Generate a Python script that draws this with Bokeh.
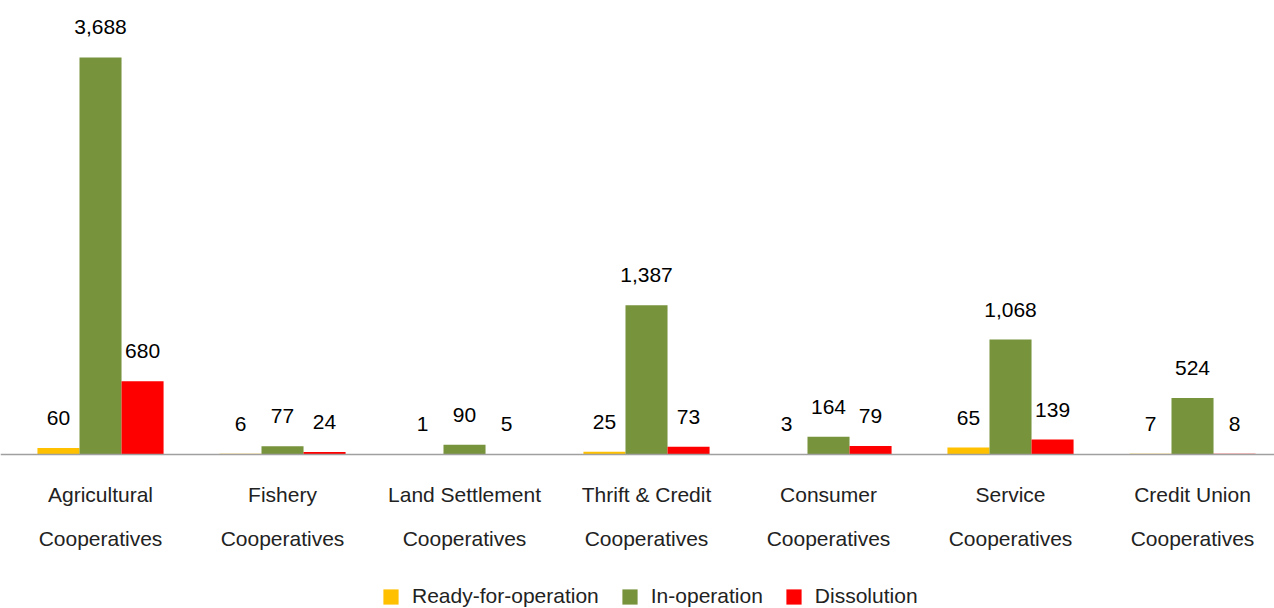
from bokeh.plotting import figure
from bokeh.models import (ColumnDataSource, Range1d, LinearAxis, FixedTicker,
                          Legend, LegendItem, LabelSet)
from bokeh.core.properties import value
from bokeh.embed import file_html
from bokeh.resources import INLINE

categories_line1 = ["Agricultural", "Fishery", "Land Settlement", "Thrift & Credit",
                    "Consumer", "Service", "Credit Union"]
categories_line2 = ["Cooperatives"] * 7
ready = [60, 6, 1, 25, 3, 65, 7]
in_operation = [3688, 77, 90, 1387, 164, 1068, 524]
dissolution = [680, 24, 5, 73, 79, 139, 8]
series_names = ["Ready-for-operation", "In-operation", "Dissolution"]
colors = ["#FFC000", "#77933C", "#FF0000"]

FONT = "Liberation Sans"
idx = list(range(len(categories_line1)))

p = figure(width=1274, height=608, output_backend="svg", toolbar_location=None,
           x_range=Range1d(-0.5495, 6.4505), y_range=Range1d(-1430.6, 4217.4),
           min_border_left=0, min_border_right=0, min_border_top=0, min_border_bottom=0,
           outline_line_color=None, x_axis_location=None, y_axis_location=None)
p.xgrid.visible = False
p.ygrid.visible = False

bw = 0.231
renderers = []
for k, (vals, col) in enumerate(zip([ready, in_operation, dissolution], colors)):
    off = (k - 1) * bw
    src = ColumnDataSource(dict(x=[i + off for i in idx], top=vals,
                                lab=[f"{v:,}" for v in vals]))
    r = p.vbar(x="x", top="top", width=bw, bottom=0, source=src,
               fill_color=col, line_color=None)
    renderers.append(r)
    p.add_layout(LabelSet(x="x", y="top", text="lab", source=src,
                          y_offset=30, text_align="center", text_baseline="middle",
                          text_font=value(FONT), text_font_size="21px", text_color="#000000"))


def make_axis(labels, standoff, line):
    ax = LinearAxis(ticker=FixedTicker(ticks=idx), fixed_location=0,
                    major_label_overrides={i: t for i, t in zip(idx, labels)})
    ax.axis_line_color = "#A0A0A0" if line else None
    ax.axis_line_width = 1.5
    ax.major_tick_line_color = None
    ax.minor_tick_line_color = None
    ax.major_tick_out = 0
    ax.major_tick_in = 0
    ax.major_label_standoff = standoff
    ax.major_label_text_font = FONT
    ax.major_label_text_font_size = "21px"
    ax.major_label_text_color = "#222222"
    return ax


p.add_layout(make_axis(categories_line1, 29, True), "below")
p.add_layout(make_axis(categories_line2, 73, False), "below")

legend = Legend(items=[LegendItem(label=n, renderers=[r]) for n, r in zip(series_names, renderers)],
                orientation="horizontal", location=(381, 0),
                label_text_font=FONT, label_text_font_size="21px", label_text_color="#222222",
                glyph_width=19, glyph_height=19, spacing=21, label_standoff=12,
                border_line_color=None, background_fill_alpha=0, padding=0, margin=0)
p.add_layout(legend, "center")

open("out.html", "w").write(file_html(p, INLINE))
